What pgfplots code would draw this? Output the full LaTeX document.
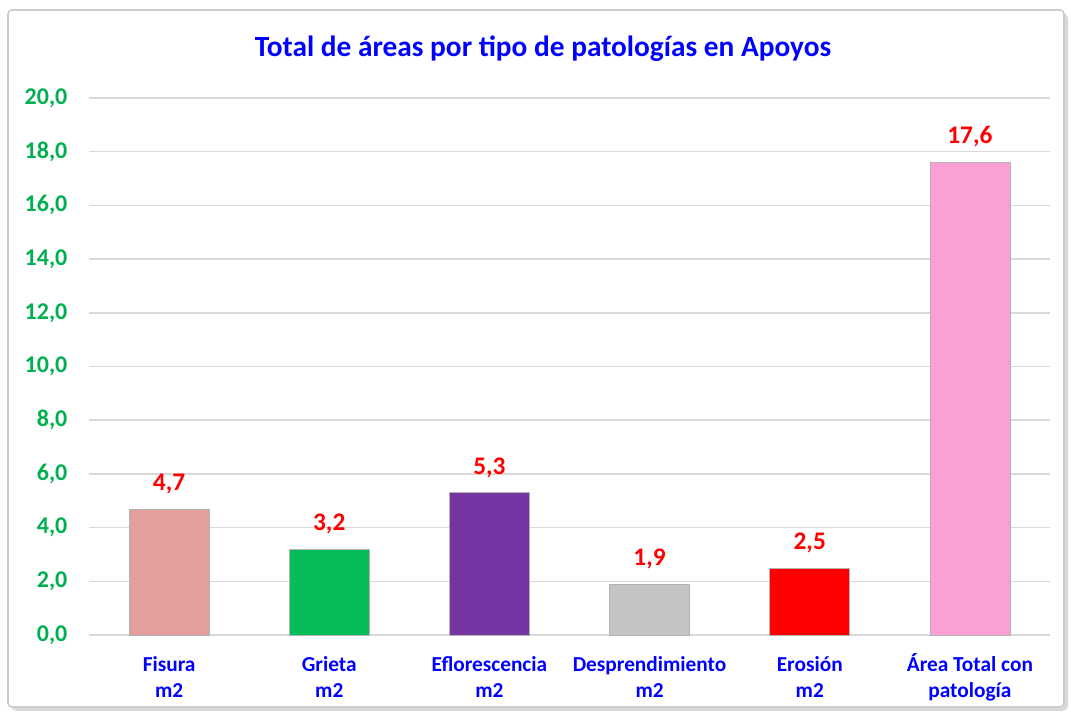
\documentclass[border=0pt]{standalone}
\usepackage{pgfplots}
\pgfplotsset{compat=1.18}
\usepackage{fontspec}
\setmainfont{Carlito}
\definecolor{cfis}{RGB}{228,158,156}
\definecolor{cgri}{RGB}{6,188,88}
\definecolor{cefl}{RGB}{118,52,162}
\definecolor{cdes}{RGB}{196,196,196}
\definecolor{cero}{RGB}{255,0,0}
\definecolor{care}{RGB}{250,160,212}
\definecolor{ctick}{RGB}{0,176,80}
\definecolor{cgrid}{RGB}{217,217,217}
\begin{document}
\begin{tikzpicture}
\begin{scope}[x=0.75pt,y=0.75pt]
\useasboundingbox (0,0) rectangle (1071,713);
\fill[gray!30, rounded corners=4] (11,2) rectangle (1068,700);
\draw[gray!40, fill=white, rounded corners=3, line width=1.2pt] (8,6) rectangle (1064,703);
\node[font=\fontsize{22}{26}\selectfont\bfseries, text=blue, anchor=base] at (543,656) {Total de áreas por tipo de patologías en Apoyos};
\end{scope}
\begin{axis}[
  at={(66.75pt,58.5pt)}, anchor=south west,
  scale only axis, width=720.75pt, height=402.75pt,
  ybar, bar width=60pt, bar shift=0pt,
  xmin=-0.5, xmax=5.5, ymin=0, ymax=20,
  ytick={0,2,...,20},
  xtick={0,1,2,3,4,5},
  xticklabels={{\strut Fisura\\m2},{\strut Grieta\\m2},{\strut Eflorescencia\\m2},{\strut Desprendimiento\\m2},{\strut Erosión\\m2},{\strut Área Total con\\patología}},
  axis line style={draw=none},
  major tick style={draw=none},
  ymajorgrids, grid style={cgrid, line width=1.1pt},
  /pgf/number format/assume math mode=true,
  yticklabel={\pgfmathprintnumber[fixed,fixed zerofill,precision=1,use comma]{\tick}},
  yticklabel style={font=\fontsize{18}{20}\selectfont\bfseries, text=ctick, inner sep=0pt, xshift=-16pt},
  xticklabel style={font=\fontsize{16}{19.5}\selectfont\bfseries, text=blue, align=center, inner sep=0pt, anchor=north, yshift=-9pt},
  nodes near coords={\pgfmathprintnumber[fixed,fixed zerofill,precision=1,use comma]{\pgfplotspointmeta}},
  every node near coord/.append style={font=\fontsize{19}{21}\selectfont\bfseries, text=red, anchor=base, inner sep=0pt, yshift=14pt},
  clip=false,
]
\addplot[fill=cfis, draw=gray!60] coordinates {(0,4.7)};
\addplot[fill=cgri, draw=gray!60] coordinates {(1,3.2)};
\addplot[fill=cefl, draw=gray!60] coordinates {(2,5.3)};
\addplot[fill=cdes, draw=gray!60] coordinates {(3,1.9)};
\addplot[fill=cero, draw=gray!60] coordinates {(4,2.5)};
\addplot[fill=care, draw=gray!60] coordinates {(5,17.6)};
\end{axis}
\end{tikzpicture}
\end{document}
